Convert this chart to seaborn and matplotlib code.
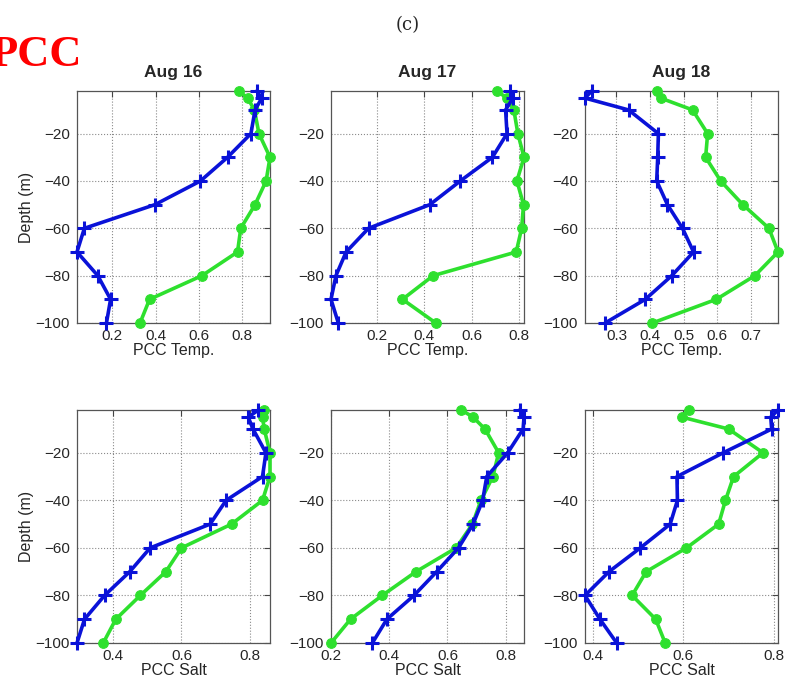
import numpy as np
import pandas as pd
import seaborn as sns
import matplotlib
matplotlib.use("Agg")
import matplotlib.pyplot as plt

# ---------------- data ----------------
depth = [-2, -5, -10, -20, -30, -40, -50, -60, -70, -80, -90, -100]
days = ["Aug 16", "Aug 17", "Aug 18"]

temp_blue_aug16 = [0.867, 0.890, 0.859, 0.840, 0.732, 0.607, 0.397, 0.071, 0.037, 0.133, 0.192, 0.173]
temp_green_aug16 = [0.784, 0.825, 0.856, 0.877, 0.928, 0.910, 0.859, 0.793, 0.778, 0.614, 0.372, 0.328]
temp_blue_aug17 = [0.764, 0.775, 0.744, 0.750, 0.688, 0.552, 0.423, 0.163, 0.068, 0.025, 0.004, 0.035]
temp_green_aug17 = [0.707, 0.750, 0.779, 0.796, 0.822, 0.792, 0.820, 0.812, 0.789, 0.437, 0.307, 0.448]
temp_blue_aug18 = [0.226, 0.206, 0.336, 0.425, 0.423, 0.420, 0.452, 0.497, 0.530, 0.465, 0.386, 0.266]
temp_green_aug18 = [0.422, 0.432, 0.527, 0.572, 0.566, 0.611, 0.677, 0.755, 0.782, 0.713, 0.598, 0.407]

salt_blue_aug16 = [0.826, 0.796, 0.810, 0.848, 0.838, 0.731, 0.684, 0.508, 0.448, 0.374, 0.315, 0.293]
salt_green_aug16 = [0.843, 0.838, 0.843, 0.860, 0.860, 0.838, 0.747, 0.600, 0.554, 0.479, 0.407, 0.370]
salt_blue_aug17 = [0.848, 0.863, 0.860, 0.807, 0.735, 0.721, 0.688, 0.638, 0.563, 0.485, 0.392, 0.342]
salt_green_aug17 = [0.648, 0.688, 0.729, 0.776, 0.756, 0.715, 0.686, 0.630, 0.492, 0.376, 0.267, 0.200]
salt_blue_aug18 = [0.809, 0.793, 0.795, 0.688, 0.586, 0.587, 0.571, 0.505, 0.436, 0.383, 0.416, 0.453]
salt_green_aug18 = [0.612, 0.597, 0.700, 0.776, 0.711, 0.693, 0.678, 0.607, 0.518, 0.487, 0.539, 0.560]

temp_xticks = [[0.2, 0.4, 0.6, 0.8], [0.2, 0.4, 0.6, 0.8], [0.3, 0.4, 0.5, 0.6, 0.7]]
salt_xticks = [[0.4, 0.6, 0.8], [0.2, 0.4, 0.6, 0.8], [0.4, 0.6, 0.8]]
yticks = [-20, -40, -60, -80, -100]

# ---------------- style ----------------
sns.set_style("white")
plt.rcParams["font.family"] = ["Liberation Sans", "DejaVu Sans"]
plt.rcParams["xtick.direction"] = "in"
plt.rcParams["ytick.direction"] = "in"

BLUE = "#0a12d8"
GREEN = "#2ee02e"

fig = plt.figure(figsize=(7.85, 6.85), dpi=100)
W, H = 785.0, 685.0
lefts = [77, 331, 585]
width = 193
rows = [(91, 323), (410, 643)]

blue_rows = [[temp_blue_aug16, temp_blue_aug17, temp_blue_aug18],
             [salt_blue_aug16, salt_blue_aug17, salt_blue_aug18]]
green_rows = [[temp_green_aug16, temp_green_aug17, temp_green_aug18],
              [salt_green_aug16, salt_green_aug17, salt_green_aug18]]
xtick_rows = [temp_xticks, salt_xticks]
xlabels = ["PCC Temp.", "PCC Salt"]

for r, (top, bot) in enumerate(rows):
    for c in range(3):
        ax = fig.add_axes([lefts[c] / W, 1 - bot / H, width / W, (bot - top) / H])
        b = blue_rows[r][c]
        g = green_rows[r][c]
        df = pd.DataFrame({"depth": depth * 2, "pcc": b + g,
                           "series": ["blue"] * len(b) + ["green"] * len(g)})
        sns.lineplot(data=df[df.series == "green"], x="pcc", y="depth", sort=False,
                     estimator=None, color=GREEN, lw=2.6, marker="o", ms=7,
                     mec=GREEN, mfc=GREEN, ax=ax, zorder=3, clip_on=False)
        sns.lineplot(data=df[df.series == "blue"], x="pcc", y="depth", sort=False,
                     estimator=None, color=BLUE, lw=2.6, marker="+", ms=10,
                     mew=2.2, mec=BLUE, ax=ax, zorder=4, clip_on=False)
        ax.set_xlim(min(b + g), max(b + g))
        ax.set_ylim(min(depth), max(depth))
        ax.set_xticks(xtick_rows[r][c])
        ax.set_xticklabels([f"{t:g}" for t in xtick_rows[r][c]])
        ax.set_yticks(yticks)
        ax.set_yticklabels([f"\u2212{abs(t)}" for t in yticks])
        ax.grid(True, linestyle=":", color="#8a8a8a", lw=0.8)
        for s in ax.spines.values():
            s.set_visible(True)
            s.set_color("#555555")
            s.set_linewidth(0.9)
        ax.tick_params(labelsize=11, length=4, color="#444444",
                       top=True, right=True)
        ax.tick_params(axis="x", pad=4)
        ax.tick_params(axis="y", pad=5)
        ax.set_xlabel(xlabels[r], fontsize=11.5, labelpad=0)
        if c == 0:
            ax.set_ylabel("Depth (m)", fontsize=11.5, labelpad=1)
        else:
            ax.set_ylabel("")
        if r == 0:
            ax.set_title(days[c], fontsize=12.5, fontweight="bold", pad=10)
        leg = ax.get_legend()
        if leg is not None:
            leg.remove()

fig.text(408 / W, 1 - 25 / H, "(c)", fontsize=13, family="DejaVu Serif",
         ha="center", va="center")
fig.text(82 / W, 1 - 55 / H, "PCC", fontsize=32, family="Liberation Serif",
         fontweight="bold", color="red", ha="right", va="center")

fig.savefig("out.png", dpi=100)
